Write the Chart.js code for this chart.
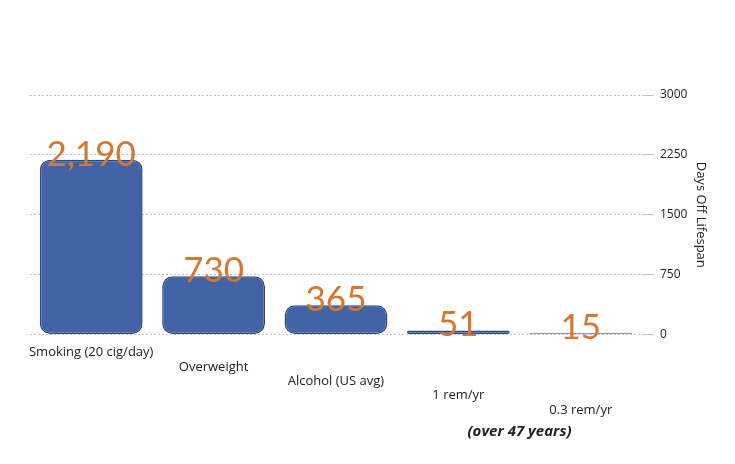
<!DOCTYPE html>
<html>
<head>
<meta charset="utf-8">
<script src="https://cdn.jsdelivr.net/npm/chart.js@4/dist/chart.umd.min.js"></script>
<style>
  html, body { margin: 0; padding: 0; background: #fff; }
  #wrap { width: 735px; height: 464px; }
</style>
</head>
<body>
<div id="wrap"><canvas id="chart"></canvas></div>
<script>
// values
const categories = ["Smoking (20 cig/day)", "Overweight", "Alcohol (US avg)", "1 rem/yr", "0.3 rem/yr"];
const daysOff = [2190, 730, 365, 51, 15];
const yTicks = [0, 750, 1500, 2250, 3000];
const footNote = "(over 47 years)";

// orange numbers sitting on top of every bar
const valueLabels = {
    id: "valueLabels",
    afterDatasetsDraw(chart) {
        const ctx = chart.ctx;
        const meta = chart.getDatasetMeta(0);
        ctx.save();
        ctx.font = "35px Lato";
        ctx.fillStyle = "#D4782F";
        ctx.textAlign = "center";
        ctx.textBaseline = "alphabetic";
        meta.data.forEach((bar, i) => {
            ctx.fillText(daysOff[i].toLocaleString("en-US"), bar.x, bar.y + 6);
        });
        ctx.restore();
    }
};

// the little note under the last categories
const footNotePlugin = {
    id: "footNote",
    afterDraw(chart) {
        const ctx = chart.ctx;
        const x = chart.scales.x;
        ctx.save();
        ctx.font = "italic bold 15px 'Open Sans'";
        ctx.fillStyle = "#222";
        ctx.textAlign = "center";
        ctx.fillText(footNote, (x.getPixelForValue(3) + x.getPixelForValue(4)) / 2, 436);
        ctx.restore();
    }
};

new Chart(document.getElementById("chart"), {
    type: "bar",
    data: {
        labels: categories,
        datasets: [{
            data: daysOff,
            backgroundColor: "#4264A7",
            borderColor: "#2C477C",
            borderWidth: 1.5,
            borderRadius: 10,
            borderSkipped: false,
            categoryPercentage: 0.84,
            barPercentage: 1
        }]
    },
    options: {
        responsive: true,
        maintainAspectRatio: false,
        animation: false,
        layout: { padding: { left: 30, right: 4, top: 95, bottom: 44 } },
        plugins: {
            legend: { display: false },
            tooltip: { enabled: false }
        },
        scales: {
            x: {
                grid: { display: false },
                border: { display: false },
                ticks: {
                    autoSkip: false,
                    maxRotation: 0,
                    minRotation: 0,
                    color: "#222",
                    font: { family: "Open Sans", size: 13, lineHeight: 1.1 },
                    // stagger labels, each a bit lower than the one before
                    callback: (v, i) => new Array(i).fill("").concat([categories[i]])
                }
            },
            y: {
                position: "right",
                min: 0,
                max: 3000,
                afterBuildTicks: (axis) => { axis.ticks = yTicks.map(v => ({ value: v })); },
                grid: { color: "#c4c4c4", lineWidth: 1, tickLength: 12 },
                border: { display: false, dash: [2, 2] },
                ticks: {
                    color: "#222",
                    padding: 6,
                    font: { family: "Open Sans", size: 12 },
                    callback: (v) => String(v)
                },
                title: {
                    display: true,
                    text: "Days Off Lifespan",
                    color: "#222",
                    font: { family: "Open Sans", size: 13 },
                    padding: { top: 22, bottom: 0 }
                }
            }
        }
    },
    plugins: [valueLabels, footNotePlugin]
});
</script>
</body>
</html>
